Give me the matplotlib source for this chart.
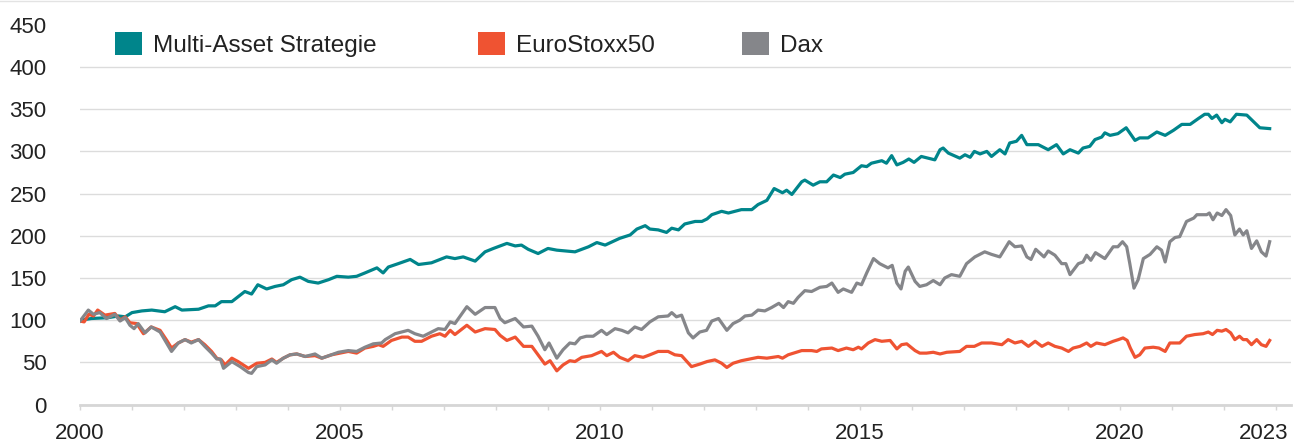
import matplotlib
matplotlib.use("Agg")
import matplotlib.pyplot as plt
from matplotlib.patches import Patch
from matplotlib.lines import Line2D
from matplotlib.transforms import ScaledTranslation

# Multi-Asset Strategie (decimal year, index value)
ms_t = [2000.00, 2000.22, 2000.54, 2000.74, 2000.87, 2001.00, 2001.19, 2001.38, 2001.63, 2001.83,
        2001.96, 2002.28, 2002.47, 2002.60, 2002.72, 2002.92, 2003.17, 2003.30, 2003.42, 2003.59,
        2003.75, 2003.91, 2004.07, 2004.23, 2004.39, 2004.58, 2004.78, 2004.94, 2005.16, 2005.32,
        2005.48, 2005.71, 2005.83, 2005.93, 2006.12, 2006.35, 2006.51, 2006.76, 2007.05, 2007.21,
        2007.37, 2007.60, 2007.79, 2007.95, 2008.21, 2008.37, 2008.49, 2008.62, 2008.81, 2009.00,
        2009.17, 2009.52, 2009.78, 2009.94, 2010.10, 2010.38, 2010.58, 2010.71, 2010.87, 2010.96,
        2011.12, 2011.28, 2011.38, 2011.51, 2011.63, 2011.83, 2011.96, 2012.06, 2012.15, 2012.34,
        2012.47, 2012.72, 2012.92, 2013.04, 2013.21, 2013.35, 2013.51, 2013.59, 2013.69, 2013.88,
        2013.94, 2014.10, 2014.23, 2014.36, 2014.49, 2014.62, 2014.71, 2014.87, 2015.03, 2015.13,
        2015.22, 2015.42, 2015.51, 2015.61, 2015.71, 2015.83, 2015.94, 2016.04, 2016.18, 2016.44,
        2016.54, 2016.60, 2016.70, 2016.92, 2017.02, 2017.12, 2017.20, 2017.31, 2017.44, 2017.53,
        2017.69, 2017.79, 2017.88, 2018.01, 2018.11, 2018.21, 2018.43, 2018.62, 2018.78, 2018.91,
        2019.04, 2019.20, 2019.29, 2019.42, 2019.52, 2019.65, 2019.71, 2019.81, 2019.96, 2020.12,
        2020.29, 2020.38, 2020.54, 2020.71, 2020.87, 2021.03, 2021.19, 2021.35, 2021.51, 2021.63,
        2021.70, 2021.77, 2021.86, 2021.96, 2022.02, 2022.12, 2022.24, 2022.44, 2022.69, 2022.88]
ms_v = [100, 102, 103, 105, 104, 109, 111, 112, 110, 116,
        112, 113, 117, 117, 122, 122, 134, 131, 142, 137,
        140, 142, 148, 151, 146, 144, 148, 152, 151, 152,
        156, 162, 156, 163, 167, 172, 166, 168, 175, 173,
        175, 170, 181, 185, 191, 188, 189, 184, 179, 185,
        183, 181, 187, 192, 189, 197, 201, 208, 212, 208,
        207, 204, 209, 207, 214, 217, 217, 220, 225, 229,
        227, 231, 231, 237, 242, 256, 251, 254, 249, 264,
        266, 260, 264, 264, 272, 269, 273, 275, 283, 282,
        286, 289, 286, 295, 284, 287, 291, 287, 294, 290,
        302, 304, 298, 292, 296, 293, 300, 297, 300, 294,
        302, 297, 310, 312, 319, 308, 308, 302, 308, 297,
        302, 298, 304, 306, 314, 317, 322, 319, 321, 328,
        313, 316, 316, 323, 319, 325, 332, 332, 339, 344,
        344, 339, 343, 334, 338, 335, 344, 343, 328, 327]

# EuroStoxx50
es_t = [2000.00, 2000.08, 2000.17, 2000.26, 2000.34, 2000.48, 2000.67, 2000.77, 2000.87, 2000.96,
        2001.09, 2001.22, 2001.37, 2001.54, 2001.67, 2001.76, 2001.89, 2002.02, 2002.14, 2002.28,
        2002.40, 2002.53, 2002.63, 2002.72, 2002.79, 2002.92, 2003.04, 2003.24, 2003.40, 2003.56,
        2003.69, 2003.78, 2003.91, 2004.04, 2004.17, 2004.33, 2004.52, 2004.65, 2004.84, 2005.16,
        2005.32, 2005.48, 2005.64, 2005.74, 2005.83, 2005.99, 2006.19, 2006.31, 2006.44, 2006.57,
        2006.76, 2006.92, 2007.02, 2007.12, 2007.21, 2007.44, 2007.60, 2007.79, 2007.98, 2008.08,
        2008.21, 2008.37, 2008.53, 2008.69, 2008.81, 2008.94, 2009.04, 2009.17, 2009.29, 2009.42,
        2009.52, 2009.65, 2009.84, 2010.03, 2010.13, 2010.26, 2010.38, 2010.54, 2010.67, 2010.83,
        2010.96, 2011.12, 2011.31, 2011.44, 2011.57, 2011.76, 2011.92, 2012.06, 2012.21, 2012.34,
        2012.44, 2012.56, 2012.72, 2013.04, 2013.21, 2013.43, 2013.51, 2013.62, 2013.88, 2014.07,
        2014.17, 2014.26, 2014.46, 2014.58, 2014.74, 2014.87, 2014.97, 2015.03, 2015.16, 2015.29,
        2015.42, 2015.58, 2015.71, 2015.80, 2015.90, 2016.06, 2016.15, 2016.28, 2016.41, 2016.54,
        2016.67, 2016.92, 2017.05, 2017.20, 2017.34, 2017.53, 2017.73, 2017.85, 2017.98, 2018.11,
        2018.24, 2018.37, 2018.50, 2018.62, 2018.75, 2018.88, 2019.01, 2019.10, 2019.23, 2019.36,
        2019.44, 2019.55, 2019.71, 2019.87, 2019.97, 2020.06, 2020.14, 2020.20, 2020.29, 2020.38,
        2020.48, 2020.64, 2020.75, 2020.87, 2020.96, 2021.06, 2021.15, 2021.28, 2021.44, 2021.60,
        2021.70, 2021.78, 2021.87, 2021.96, 2022.04, 2022.13, 2022.21, 2022.30, 2022.37, 2022.44,
        2022.53, 2022.63, 2022.72, 2022.81, 2022.88]
es_v = [99, 98, 107, 105, 112, 106, 108, 100, 104, 97,
        96, 84, 92, 88, 76, 67, 73, 77, 74, 77,
        71, 63, 55, 53, 47, 55, 51, 43, 49, 50,
        54, 50, 55, 59, 60, 57, 58, 55, 59, 63,
        61, 67, 69, 71, 69, 76, 80, 80, 75, 75,
        81, 84, 81, 88, 83, 94, 86, 90, 89, 82,
        76, 80, 69, 69, 59, 48, 52, 40, 47, 52,
        51, 56, 58, 63, 58, 62, 56, 52, 58, 56,
        59, 63, 63, 59, 58, 45, 48, 51, 53, 49,
        44, 49, 52, 56, 55, 57, 55, 59, 64, 64,
        63, 66, 67, 64, 67, 65, 68, 66, 73, 77,
        75, 76, 66, 71, 72, 64, 61, 61, 62, 60,
        62, 63, 69, 69, 73, 73, 71, 77, 73, 75,
        69, 75, 69, 73, 69, 67, 63, 67, 69, 73,
        69, 73, 71, 75, 77, 79, 76, 67, 56, 59,
        67, 68, 67, 63, 73, 73, 73, 81, 83, 84,
        86, 83, 88, 87, 89, 85, 77, 81, 77, 77,
        71, 77, 71, 69, 76]

# Dax
dax_t = [2000.00, 2000.16, 2000.26, 2000.38, 2000.51, 2000.67, 2000.77, 2000.87, 2000.96, 2001.04,
         2001.12, 2001.25, 2001.37, 2001.54, 2001.76, 2001.89, 2002.02, 2002.14, 2002.28, 2002.40,
         2002.53, 2002.63, 2002.70, 2002.76, 2002.92, 2003.08, 2003.24, 2003.30, 2003.40, 2003.56,
         2003.69, 2003.78, 2003.91, 2004.04, 2004.17, 2004.33, 2004.52, 2004.65, 2004.97, 2005.16,
         2005.32, 2005.48, 2005.64, 2005.80, 2005.87, 2006.06, 2006.31, 2006.44, 2006.60, 2006.76,
         2006.89, 2007.02, 2007.12, 2007.21, 2007.44, 2007.60, 2007.79, 2007.98, 2008.08, 2008.17,
         2008.37, 2008.53, 2008.69, 2008.81, 2008.94, 2009.02, 2009.17, 2009.29, 2009.42, 2009.52,
         2009.62, 2009.74, 2009.87, 2010.03, 2010.13, 2010.29, 2010.42, 2010.54, 2010.67, 2010.80,
         2010.96, 2011.12, 2011.31, 2011.38, 2011.47, 2011.57, 2011.70, 2011.79, 2011.92, 2012.05,
         2012.15, 2012.28, 2012.44, 2012.56, 2012.69, 2012.79, 2012.92, 2013.04, 2013.17, 2013.30,
         2013.44, 2013.53, 2013.62, 2013.72, 2013.81, 2013.94, 2014.07, 2014.23, 2014.36, 2014.46,
         2014.58, 2014.68, 2014.84, 2014.94, 2015.03, 2015.13, 2015.26, 2015.38, 2015.54, 2015.62,
         2015.71, 2015.79, 2015.87, 2015.93, 2016.06, 2016.15, 2016.28, 2016.41, 2016.54, 2016.63,
         2016.76, 2016.92, 2017.05, 2017.21, 2017.40, 2017.53, 2017.69, 2017.87, 2017.98, 2018.11,
         2018.21, 2018.29, 2018.38, 2018.54, 2018.62, 2018.75, 2018.88, 2018.96, 2019.04, 2019.20,
         2019.29, 2019.36, 2019.44, 2019.53, 2019.71, 2019.87, 2019.96, 2020.05, 2020.13, 2020.19,
         2020.27, 2020.35, 2020.45, 2020.58, 2020.71, 2020.80, 2020.87, 2020.96, 2021.06, 2021.15,
         2021.28, 2021.42, 2021.48, 2021.67, 2021.72, 2021.79, 2021.87, 2021.96, 2022.04, 2022.13,
         2022.21, 2022.30, 2022.37, 2022.44, 2022.53, 2022.63, 2022.72, 2022.81, 2022.88]
dax_v = [99, 112, 107, 109, 102, 107, 99, 103, 94, 90,
         96, 85, 92, 86, 63, 73, 77, 73, 77, 69,
         61, 54, 54, 43, 51, 45, 38, 37, 45, 47,
         53, 49, 55, 59, 60, 57, 60, 55, 62, 64,
         63, 68, 72, 73, 77, 84, 88, 84, 81, 86,
         90, 89, 98, 96, 116, 107, 115, 115, 102, 97,
         102, 92, 93, 81, 65, 73, 55, 65, 73, 72,
         79, 81, 81, 88, 83, 90, 88, 85, 92, 89,
         98, 104, 105, 109, 104, 106, 85, 79, 86, 88,
         99, 102, 88, 96, 100, 105, 106, 112, 111, 115,
         120, 115, 122, 120, 127, 135, 134, 139, 140, 144,
         133, 137, 133, 144, 142, 156, 173, 167, 162, 165,
         144, 137, 158, 163, 146, 140, 142, 147, 142, 150,
         154, 152, 167, 175, 181, 178, 175, 193, 187, 188,
         175, 172, 184, 175, 182, 177, 167, 167, 154, 167,
         169, 177, 171, 180, 173, 187, 187, 193, 187, 167,
         138, 148, 173, 178, 187, 183, 169, 193, 198, 199,
         217, 221, 225, 225, 227, 219, 227, 224, 231, 224,
         201, 208, 201, 206, 185, 194, 181, 176, 193]

labels = ["Multi-Asset Strategie", "EuroStoxx50", "Dax"]
colors = ["#00858B", "#EF5332", "#85868A"]

year_ticks = list(range(2000, 2024))
label_years = [2000, 2005, 2010, 2015, 2020, 2023]
y_ticks = list(range(0, 451, 50))

plt.rcParams['font.family'] = ['Liberation Sans', 'DejaVu Sans']

fig = plt.figure(figsize=(12.94, 4.44), dpi=100)
ax = fig.add_axes([80/1294, 39.4/444, (1291-80)/1294, (404.6-24.8)/444])

ax.plot(ms_t, ms_v, color=colors[0], lw=2.3, zorder=3)
ax.plot(es_t, es_v, color=colors[1], lw=2.3, zorder=4)
ax.plot(dax_t, dax_v, color=colors[2], lw=2.3, zorder=5)

ax.set_xlim(2000, 2023.29)
ax.set_ylim(0, 450)

ax.set_xticks(year_ticks)
ax.set_xticklabels([str(y) if y in label_years else "" for y in year_ticks])
ax.set_yticks(y_ticks)
ax.set_yticklabels([str(v) for v in y_ticks])

ax.tick_params(axis='x', length=3.5, width=1, color='#D6D6D6', pad=10,
               labelsize=16, labelcolor='#222222')
ax.tick_params(axis='y', length=0, pad=24, labelsize=16, labelcolor='#222222')

# shift the last year label left like the original
lab = ax.get_xticklabels()[-1]
lab.set_transform(lab.get_transform() + ScaledTranslation(-0.12, 0, fig.dpi_scale_trans))

ax.yaxis.grid(True, color='#DCDCDC', lw=1)
ax.set_axisbelow(True)
for ln in ax.yaxis.get_gridlines()[-1:]:
    ln.set_visible(False)

for s in ['top', 'right', 'left']:
    ax.spines[s].set_visible(False)
ax.spines['bottom'].set_color('#D6D6D6')
ax.spines['bottom'].set_linewidth(2)

# thin rule at top of the image
fig.add_artist(Line2D([0, 1], [0.998, 0.998], transform=fig.transFigure,
                      color='#E3E3E3', lw=1))

# legend entries, placed one by one
leg_x = [115, 478, 742]
for lbl, c, x in zip(labels, colors, leg_x):
    lg = fig.legend(handles=[Patch(facecolor=c, edgecolor='none')], labels=[lbl],
                    loc='center left', bbox_to_anchor=(x/1294, 1 - 44.5/444),
                    frameon=False, fontsize=17.5, handlelength=1.11, handleheight=1.11,
                    handletextpad=0.45, borderpad=0, borderaxespad=0)
    for t in lg.get_texts():
        t.set_color('#222222')

fig.savefig('out.png', dpi=100)
